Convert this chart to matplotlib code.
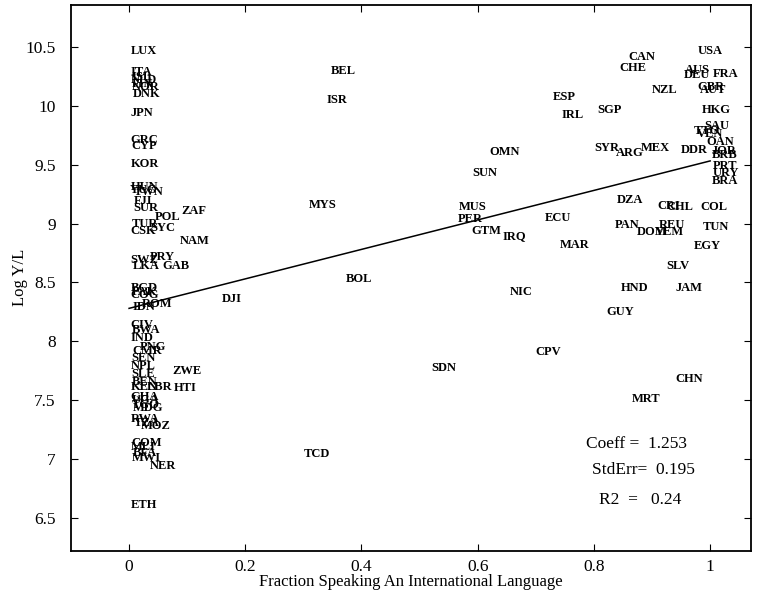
import numpy as np
import matplotlib
matplotlib.use("Agg")
import matplotlib.pyplot as plt
from matplotlib.ticker import FuncFormatter

plt.rcParams['font.family'] = ['Liberation Serif', 'DejaVu Serif']

# country codes, fraction speaking an international language, log output per worker
codes = ['LUX', 'ITA', 'ISL', 'NLD', 'FIN', 'NOR', 'DNK', 'JPN', 'GRC', 'CYP', 'KOR',
         'HUN', 'YUG', 'TWN', 'FJI', 'SUR', 'POL', 'ZAF', 'TUR', 'CSK', 'SYC', 'NAM',
         'PRY', 'SWZ', 'LKA', 'GAB', 'BGD', 'PAK', 'COG', 'ROM', 'IDN', 'CIV', 'BWA',
         'IND', 'PNG', 'CMR', 'SEN', 'NPL', 'SLE', 'BEN', 'KEN', 'LBR', 'ZWE', 'HTI',
         'GHA', 'UGA', 'TGO', 'MDG', 'RWA', 'TZA', 'MOZ', 'COM', 'MLI', 'BFA', 'MWI',
         'NER', 'ETH',
         'BEL', 'ISR', 'MYS', 'DJI', 'BOL', 'TCD', 'SDN', 'OMN', 'SUN', 'MUS', 'PER',
         'GTM', 'IRQ', 'ECU', 'MAR', 'NIC', 'CPV', 'ESP', 'IRL', 'SGP', 'SYR', 'ARG',
         'MEX', 'DDR', 'CAN', 'CHE', 'NZL', 'USA', 'AUS', 'DEU', 'FRA', 'GBR', 'AUT',
         'HKG', 'SAU', 'TTO', 'VEN', 'OAN', 'JOR', 'BRB', 'PRT', 'URY', 'BRA', 'DZA',
         'CRI', 'CHL', 'COL', 'PAN', 'DOM', 'REU', 'YEM', 'TUN', 'EGY', 'SLV', 'HND',
         'JAM', 'GUY', 'CHN', 'MRT']
frac = [0.003, 0.003, 0.004, 0.003, 0.005, 0.004, 0.006, 0.003, 0.003, 0.004, 0.003,
        0.003, 0.002, 0.008, 0.008, 0.007, 0.045, 0.090, 0.004, 0.003, 0.036, 0.088,
        0.036, 0.002, 0.006, 0.058, 0.003, 0.004, 0.003, 0.022, 0.006, 0.002, 0.005,
        0.003, 0.018, 0.006, 0.004, 0.003, 0.004, 0.004, 0.003, 0.030, 0.074, 0.077,
        0.003, 0.005, 0.004, 0.006, 0.003, 0.008, 0.020, 0.004, 0.003, 0.006, 0.005,
        0.036, 0.003,
        0.348, 0.340, 0.310, 0.160, 0.373, 0.300, 0.520, 0.620, 0.590, 0.568, 0.566,
        0.589, 0.642, 0.716, 0.742, 0.656, 0.700, 0.730, 0.745, 0.805, 0.800, 0.838,
        0.881, 0.950, 0.859, 0.843, 0.900, 0.978, 0.957, 0.955, 1.005, 0.978, 0.983,
        0.986, 0.990, 0.971, 0.977, 0.993, 1.003, 1.003, 1.005, 1.005, 1.003, 0.840,
        0.909, 0.925, 0.983, 0.836, 0.873, 0.912, 0.905, 0.988, 0.972, 0.924, 0.847,
        0.941, 0.821, 0.941, 0.866]
logyl = [10.47, 10.29, 10.25, 10.22, 10.19, 10.16, 10.10, 9.94, 9.71, 9.66, 9.51,
         9.31, 9.29, 9.27, 9.19, 9.13, 9.06, 9.11, 9.00, 8.94, 8.96, 8.85,
         8.72, 8.69, 8.64, 8.64, 8.45, 8.42, 8.39, 8.32, 8.29, 8.14, 8.10,
         8.03, 7.95, 7.92, 7.86, 7.79, 7.72, 7.65, 7.61, 7.61, 7.75, 7.60,
         7.53, 7.50, 7.46, 7.43, 7.34, 7.31, 7.28, 7.14, 7.10, 7.05, 7.01,
         6.94, 6.61,
         10.30, 10.05, 9.16, 8.36, 8.53, 7.04, 7.77, 9.61, 9.43, 9.14, 9.04,
         8.94, 8.89, 9.05, 8.82, 8.42, 7.91, 10.08, 9.92, 9.97, 9.64, 9.60,
         9.64, 9.63, 10.42, 10.32, 10.14, 10.47, 10.31, 10.26, 10.27, 10.16, 10.14,
         9.97, 9.83, 9.79, 9.76, 9.69, 9.62, 9.58, 9.49, 9.43, 9.36, 9.20,
         9.15, 9.14, 9.14, 8.99, 8.93, 8.99, 8.93, 8.97, 8.81, 8.64, 8.45,
         8.45, 8.25, 7.68, 7.51]

# regression results
intercept = 8.28
coeff = 1.253
stderr = 0.195
r2 = 0.24

fig = plt.figure(figsize=(7.63, 5.98), dpi=100)
ax = fig.add_axes([0.093, 0.079, 0.891, 0.913])

for c, x, y in zip(codes, frac, logyl):
    ax.text(x, y, c, fontsize=9, fontweight='bold', ha='left', va='center')

xs = np.array([0.0, 1.0])
ax.plot(xs, intercept + coeff * xs, color='black', linewidth=1.1)

ax.text(0.786, 7.13, 'Coeff =  %.3f' % coeff, fontsize=12.5, ha='left', va='center')
ax.text(0.797, 6.91, 'StdErr=  %.3f' % stderr, fontsize=12.5, ha='left', va='center')
ax.text(0.809, 6.65, 'R2  =   %.2f' % r2, fontsize=12.5, ha='left', va='center')

ax.set_xlim(-0.1, 1.07)
ax.set_ylim(6.22, 10.86)
ax.set_xticks([0, 0.2, 0.4, 0.6, 0.8, 1])
ax.set_yticks([6.5, 7, 7.5, 8, 8.5, 9, 9.5, 10, 10.5])
fmt = FuncFormatter(lambda v, p: '%g' % v)
ax.xaxis.set_major_formatter(fmt)
ax.yaxis.set_major_formatter(fmt)
ax.tick_params(direction='in', top=True, right=True, length=5, labelsize=12.5)
ax.tick_params(axis='y', pad=11)
ax.tick_params(axis='x', pad=6)
for s in ax.spines.values():
    s.set_linewidth(1.3)

ax.set_xlabel('Fraction Speaking An International Language', fontsize=12, labelpad=-1)
ax.set_ylabel('Log Y/L', fontsize=12)
ax.yaxis.set_label_coords(-0.063, 0.5)

fig.savefig('out.png', dpi=100)
